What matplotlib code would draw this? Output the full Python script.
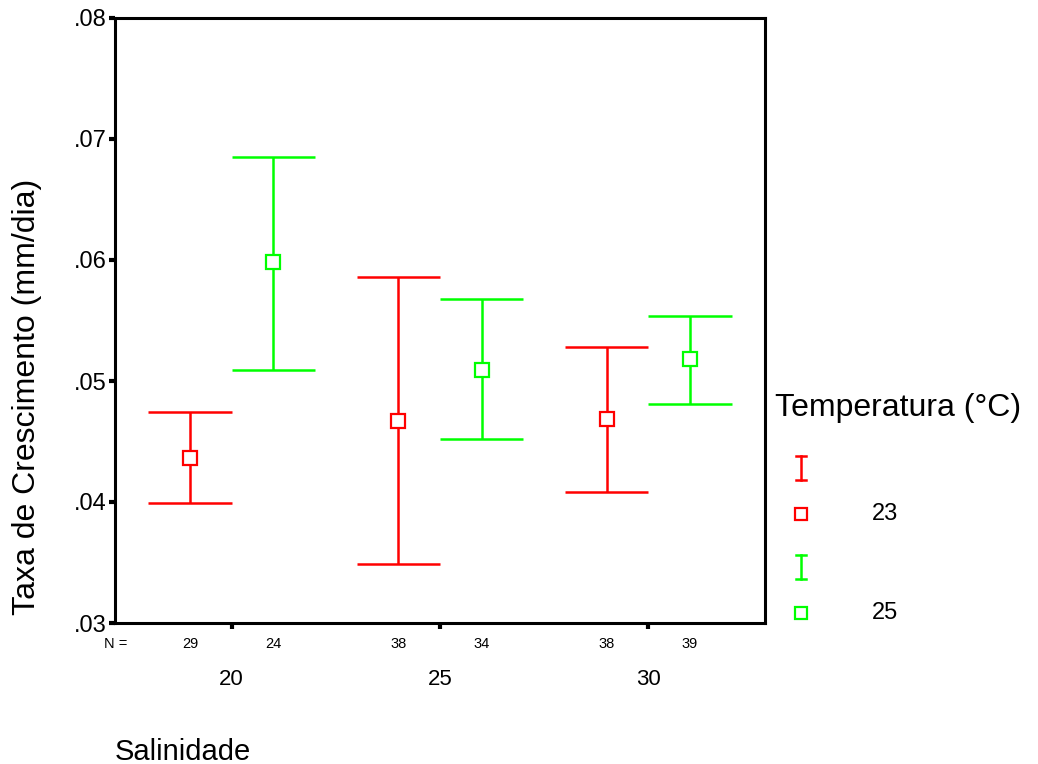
import matplotlib.pyplot as plt
import numpy as np

plt.rcParams['font.family'] = 'sans-serif'
plt.rcParams['font.sans-serif'] = ['Liberation Sans', 'DejaVu Sans']

salinidade = ['20', '25', '30']
temperaturas = ['23', '25']
cores = ['#ff0000', '#00ff00']

# n por grupo
n_23 = [29, 38, 38]
n_25 = [24, 34, 39]

# media e intervalo de confianca (95%)
media_23 = [0.0436, 0.0467, 0.0469]
inf_23 = [0.0399, 0.0349, 0.0408]
sup_23 = [0.0474, 0.0586, 0.0528]

media_25 = [0.0598, 0.0509, 0.0518]
inf_25 = [0.0509, 0.0452, 0.0481]
sup_25 = [0.0685, 0.0568, 0.0554]

W, H = 1038, 764
fig = plt.figure(figsize=(W / 100, H / 100), dpi=100)
ax = fig.add_axes([115 / W, 1 - 623 / H, 650 / W, 605 / H])

x = np.arange(len(salinidade))
desloc = 0.2
cap = 0.2

grupos = [(media_23, inf_23, sup_23, n_23), (media_25, inf_25, sup_25, n_25)]
for k, (med, lo, hi, n) in enumerate(grupos):
    xs = x + (k * 2 - 1) * desloc
    c = cores[k]
    ax.vlines(xs, lo, hi, color=c, lw=1.8)
    ax.hlines(lo, xs - cap, xs + cap, color=c, lw=1.8)
    ax.hlines(hi, xs - cap, xs + cap, color=c, lw=1.8)
    ax.plot(xs, med, 's', ms=9.5, mfc='white', mec=c, mew=1.6, ls='none')
    for xi, ni in zip(xs, n):
        ax.text(xi, -0.034, str(ni), transform=ax.get_xaxis_transform(),
                ha='center', va='center', fontsize=10.5)

ax.text(-0.5, -0.034, 'N =', transform=ax.get_xaxis_transform(),
        ha='right', va='center', fontsize=10.5)

ax.set_xlim(-0.56, 2.56)
ax.set_ylim(0.03, 0.08)
ax.set_xticks(x)
ax.set_xticklabels(salinidade, fontsize=16)
yt = [0.03, 0.04, 0.05, 0.06, 0.07, 0.08]
ax.set_yticks(yt)
ax.set_yticklabels(['.03', '.04', '.05', '.06', '.07', '.08'], fontsize=17)
ax.tick_params(axis='x', length=4, width=3, pad=29)
ax.tick_params(axis='y', length=4, width=3, pad=2)
for s in ax.spines.values():
    s.set_linewidth(2.2)

fig.text(27 / W, 1 - 397 / H, 'Taxa de Crescimento (mm/dia)', rotation=90,
         ha='center', va='center', fontsize=23)
fig.text(115 / W, 1 - 752 / H, 'Salinidade', ha='left', va='center', fontsize=21)

# legenda
lg = fig.add_axes([0, 0, 1, 1], facecolor='none')
lg.set_xlim(0, W)
lg.set_ylim(H, 0)
lg.axis('off')
lg.text(775, 408, 'Temperatura (°C)', ha='left', va='center', fontsize=23)
for k, t in enumerate(temperaturas):
    y0 = 468 + k * 99
    c = cores[k]
    lg.plot([801, 801], [y0 - 12, y0 + 12], color=c, lw=1.8)
    lg.plot([796, 806], [y0 - 12, y0 - 12], color=c, lw=1.8)
    lg.plot([796, 806], [y0 + 12, y0 + 12], color=c, lw=1.8)
    lg.plot([801], [y0 + 46], 's', ms=9, mfc='white', mec=c, mew=1.6)
    lg.text(872, y0 + 46, t, ha='left', va='center', fontsize=17)

fig.savefig('out.png', dpi=100)
